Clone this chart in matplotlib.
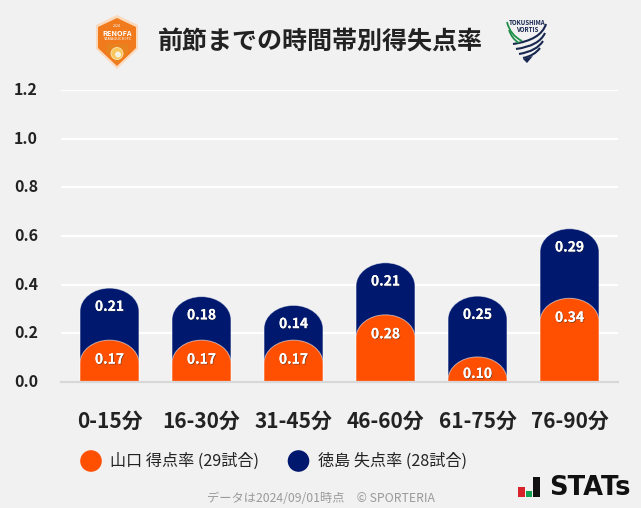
import matplotlib
matplotlib.use("Agg")
import matplotlib.pyplot as plt
import matplotlib.patheffects as pe
from matplotlib.patches import Polygon, PathPatch, Circle, Rectangle
from matplotlib.path import Path
from matplotlib.transforms import ScaledTranslation

plt.rcParams['font.family'] = ['Noto Sans CJK JP', 'DejaVu Sans']

# --- Data ---
PERIODS = ["0-15分", "16-30分", "31-45分", "46-60分", "61-75分", "76-90分"]
YAMAGUCHI_SCORED = [0.172, 0.172, 0.172, 0.276, 0.103, 0.344]
TOKUSHIMA_CONCEDED = [0.214, 0.179, 0.143, 0.214, 0.25, 0.286]
Y_TICKS = [0.0, 0.2, 0.4, 0.6, 0.8, 1.0, 1.2]
TITLE = "前節までの時間帯別得失点率"
LEGEND_LABELS = ["山口 得点率 (29試合)", "徳島 失点率 (28試合)"]
FOOTER = "データは2024/09/01時点\u3000© SPORTERIA"

# --- Style ---
W, H = 641, 508
BG = "#f1f1f1"
ORANGE = "#ff4f00"
NAVY = "#00186e"
DARK = "#222222"
BAR_W = 0.641
CAP_H = 0.095  # height of the rounded bar top in data units
KAPPA = 0.5523


def px_axes(fig, left, top, right, bottom):
    return fig.add_axes([left / W, 1 - bottom / H, (right - left) / W, (bottom - top) / H])


def rounded_bar(ax, x, value, color, zorder):
    # bar from the baseline up to value with an elliptical top
    l, r = x - BAR_W / 2, x + BAR_W / 2
    rx = BAR_W / 2
    cap = min(CAP_H, value)
    s = value - cap
    verts = [(l, 0), (l, s),
             (l, s + KAPPA * cap), (x - KAPPA * rx, value), (x, value),
             (x + KAPPA * rx, value), (r, s + KAPPA * cap), (r, s),
             (r, 0), (l, 0)]
    codes = [Path.MOVETO, Path.LINETO,
             Path.CURVE4, Path.CURVE4, Path.CURVE4,
             Path.CURVE4, Path.CURVE4, Path.CURVE4,
             Path.LINETO, Path.CLOSEPOLY]
    ax.add_patch(PathPatch(Path(verts, codes), fc=color, ec=(1, 1, 1, 0.55), lw=0.7, zorder=zorder))


def bar_label(ax, x, y, value):
    ax.text(x, y, f"{value:.2f}", color="white", fontsize=10, fontweight="bold",
            ha="center", va="center", zorder=5, clip_on=False,
            path_effects=[pe.withSimplePatchShadow(offset=(0.6, -0.6), shadow_rgbFace="#333333", alpha=0.6),
                          pe.Normal()])


def stripe(ov, start, ctrl, end, color, lw):
    ov.add_patch(PathPatch(Path([start, ctrl, end], [Path.MOVETO, Path.CURVE3, Path.CURVE3]),
                           fc="none", ec=color, lw=lw, capstyle="butt"))


fig = plt.figure(figsize=(W / 100, H / 100), dpi=100, facecolor=BG)

# main chart
ax = px_axes(fig, 61, 90, 618, 382)
ax.set_facecolor(BG)
ax.set_xlim(-0.527, 5.527)
ax.set_ylim(0, 1.2)
for s in ax.spines.values():
    s.set_visible(False)
ax.spines['bottom'].set_visible(True)
ax.spines['bottom'].set_color("#d8d8d8")
ax.spines['bottom'].set_linewidth(1.6)
ax.spines['bottom'].set_zorder(6)
ax.set_yticks(Y_TICKS)
ax.set_yticklabels([f"{t:.1f}" for t in Y_TICKS], fontsize=11.5, fontweight="bold", color=DARK)
ax.set_xticks(range(len(PERIODS)))
ax.set_xticklabels(PERIODS, fontsize=15, fontweight="bold", color=DARK)
ax.tick_params(axis='both', length=0)
ax.tick_params(axis='y', pad=16.5)
ax.tick_params(axis='x', pad=21)
ax.yaxis.grid(True, color="white", lw=1.6, zorder=0)
ax.set_axisbelow(True)

# y labels sit a little above their grid lines in the original
nudge = ScaledTranslation(0, 1.5 / 100, fig.dpi_scale_trans)
for t in ax.get_yticklabels():
    t.set_transform(t.get_transform() + nudge)

for i, (a, b) in enumerate(zip(YAMAGUCHI_SCORED, TOKUSHIMA_CONCEDED)):
    rounded_bar(ax, i, a + b, NAVY, 2)
    rounded_bar(ax, i, a, ORANGE, 3)
    bar_label(ax, i, a + b - 0.077, b)
    bar_label(ax, i, a - 0.08 if a > 0.12 else a - 0.07, a)

# overlay in pixel coordinates for title, logos, legend and footer
ov = fig.add_axes([0, 0, 1, 1], zorder=10)
ov.set_xlim(0, W)
ov.set_ylim(H, 0)
ov.axis("off")

ov.text(320.5, 42.5, TITLE, fontsize=18, fontweight="bold", color=DARK, ha="center", va="center")

# Renofa logo (approximation)
ov.add_patch(Polygon([(117, 15), (138, 25), (138, 49), (117, 69), (96, 49), (96, 25)], fc="#fbd9bd", ec="none"))
ov.add_patch(Polygon([(117, 18), (136, 27), (136, 48), (117, 66), (98, 48), (98, 27)], fc="#f07a1c", ec="none"))
ov.add_patch(Polygon([(117, 44), (128, 44), (128, 52), (117, 63), (106, 52), (106, 44)], fc="#e8821f", ec="none"))
ov.add_patch(Circle((117, 53.5), 6, fc="#f8c65a", ec="#fbe6b5", lw=0.6))
ov.add_patch(Circle((118, 54.5), 3, fc="#f6f0e0", ec="none"))
ov.text(117, 26, "2024", fontsize=2.6, color="white", ha="center", va="center")
ov.text(117, 33, "RENOFA", fontsize=5.3, fontweight="bold", color="white", ha="center", va="center")
ov.text(117, 39.5, "YAMAGUCHI FC", fontsize=2.9, color="white", ha="center", va="center")

# Vortis logo (approximation)
ov.text(527, 22.5, "TOKUSHIMA", fontsize=4.4, fontweight="bold", color="#16264f", ha="center", va="center")
ov.text(527.5, 29.5, "VORTIS", fontsize=4.4, fontweight="bold", color="#16264f", ha="center", va="center")
for start, ctrl, end in [((546, 24), (541, 40), (513, 44)),
                         ((545, 33), (539, 46), (516, 49)),
                         ((543, 41), (537, 51), (519, 54)),
                         ((540, 48), (534, 56), (523, 58))]:
    stripe(ov, start, ctrl, end, "#16264f", 1.5)
ov.add_patch(Polygon([(523, 59), (533, 56), (527, 63)], fc="#16264f", ec="none"))
for start, ctrl, end in [((507, 22), (510, 35), (522, 41)),
                         ((509, 30), (512, 39), (519, 43))]:
    stripe(ov, start, ctrl, end, "#1f8f4a", 1.3)

# legend
ov.add_patch(Circle((91, 461), 10.8, fc=ORANGE, ec="none"))
ov.text(110, 461.5, LEGEND_LABELS[0], fontsize=11.6, color=DARK, ha="left", va="center")
ov.add_patch(Circle((298.5, 461), 10.8, fc=NAVY, ec="none"))
ov.text(318, 461.5, LEGEND_LABELS[1], fontsize=11.6, color=DARK, ha="left", va="center")

# footer
ov.text(320.5, 498, FOOTER, fontsize=8.8, color="#9a9a9a", ha="center", va="center")

# STATs logo
ov.add_patch(Rectangle((518, 487), 7, 10, fc="#d8232a", ec="none"))
ov.add_patch(Rectangle((526, 491), 6, 6, fc="#12a150", ec="none"))
ov.add_patch(Rectangle((533, 477), 7, 20, fc="#111111", ec="none"))
ov.text(549, 488, "STATs", fontsize=18.5, fontweight="bold", color="#111111", ha="left", va="center",
        family="DejaVu Sans")

fig.savefig("out.png", dpi=100, facecolor=BG)
